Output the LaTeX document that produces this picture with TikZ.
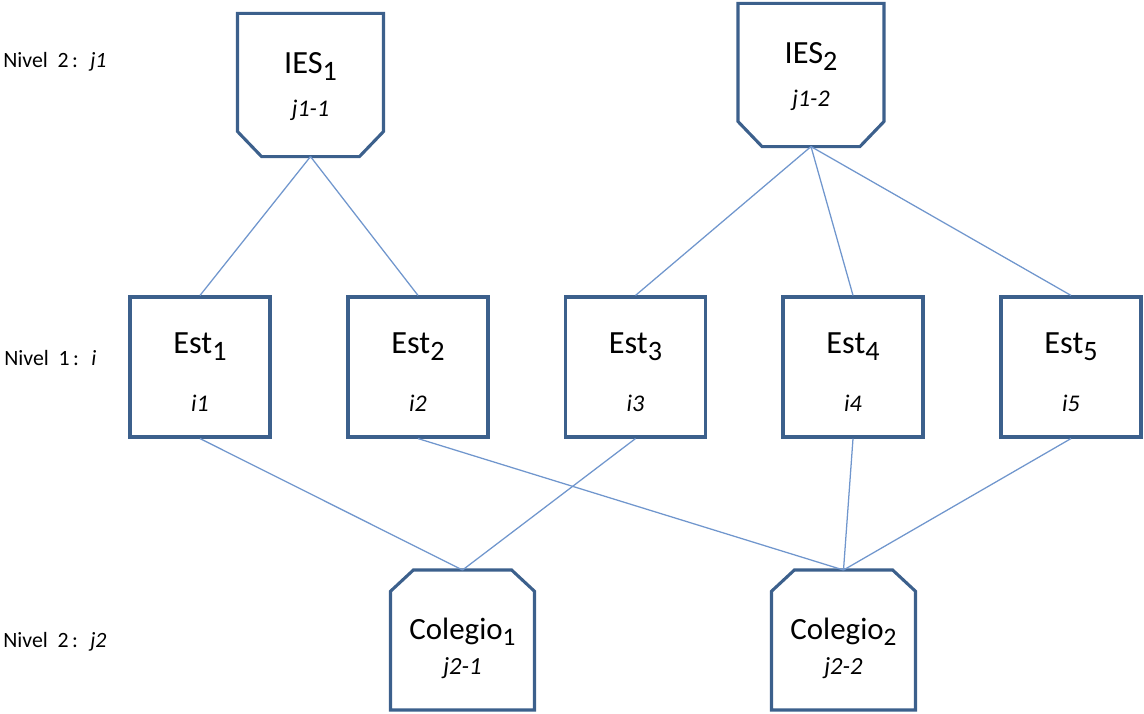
\documentclass[tikz,border=0pt]{standalone}
\usepackage{fontspec}
\setmainfont{Carlito}
\definecolor{boxblue}{RGB}{60,96,140}
\definecolor{linkblue}{RGB}{112,150,205}
\newcommand{\subidx}[2][5pt]{\raisebox{-#1}{#2}}
\newcommand{\topgap}[1]{\rule{0pt}{#1}}
% chamfered outlines, drawn round a named box
\newcommand{\chamferlow}[1]{\draw[boxline] (#1.north west) -- (#1.north east)
  -- ([yshift=0.625cm]#1.south east) -- ([xshift=-0.6cm]#1.south east)
  -- ([xshift=0.6cm]#1.south west) -- ([yshift=0.625cm]#1.south west) -- cycle;}
\newcommand{\chamferhigh}[1]{\draw[boxline] (#1.south west) -- (#1.south east)
  -- ([yshift=-0.53cm]#1.north east) -- ([xshift=-0.57cm]#1.north east)
  -- ([xshift=0.57cm]#1.north west) -- ([yshift=-0.53cm]#1.north west) -- cycle;}
\tikzset{
  boxline/.style={draw=boxblue, line width=2.2pt, line join=miter},
  estbox/.style={boxline, align=center, inner sep=0pt,
    minimum width=3.5cm, minimum height=3.5cm, font=\fontsize{23}{28}\selectfont},
  iesbox/.style={estbox, draw=none, minimum width=3.57cm},
  colbox/.style={estbox, draw=none, minimum width=3.52cm, minimum height=3.42cm,
    font=\fontsize{22}{26}\selectfont},
  link/.style={draw=linkblue, line width=0.9pt},
  nivel/.style={anchor=base west, inner sep=0pt, font=\fontsize{15.5}{18}\selectfont}
}
\begin{document}
\begin{tikzpicture}[x=0.025cm, y=-0.025cm]
      \useasboundingbox (0,0) rectangle (1144,714);

      % niveles
      \node[nivel] (niv-j1) at (3,68) {Nivel\hspace{3.5pt} 2\hspace{2.5pt}:\hspace{4pt} \textit{j1}};
      \node[nivel] (niv-i)  at (4,366) {Nivel\hspace{3.5pt} 1\hspace{2.5pt}:\hspace{4pt} \textit{i}};
      \node[nivel] (niv-j2) at (3,647) {Nivel\hspace{3.5pt} 2\hspace{2.5pt}:\hspace{4pt} \textit{j2}};

      % instituciones
      \node[iesbox] (ies1) at (310.5,85) {\topgap{17pt}IES\subidx{\fontsize{20}{20}\selectfont 1}\\[3pt]{\fontsize{17}{20}\selectfont\itshape j1-1}};
      \node[iesbox] (ies2) at (811,75) {\topgap{17pt}IES\subidx{\fontsize{20}{20}\selectfont 2}\\[3pt]{\fontsize{17}{20}\selectfont\itshape j1-2}};
      \chamferlow{ies1}
      \chamferlow{ies2}

      % estudiantes
      \foreach \n/\x in {1/200,2/418,3/635.5,4/853,5/1071}
        \node[estbox] (est\n) at (\x,367) {\topgap{22pt}Est\subidx{\fontsize{20}{20}\selectfont \n}\\[13pt]{\fontsize{17}{20}\selectfont\itshape i\n}};

      % colegios
      \node[colbox] (col1) at (462.5,640) {\topgap{27pt}Colegio\subidx[4.3pt]{\fontsize{18}{20}\selectfont 1}\\[-1pt]{\fontsize{17.5}{20}\selectfont\itshape j2-1}};
      \node[colbox] (col2) at (843.5,640) {\topgap{27pt}Colegio\subidx[4.3pt]{\fontsize{18}{20}\selectfont 2}\\[-1pt]{\fontsize{17.5}{20}\selectfont\itshape j2-2}};
      \chamferhigh{col1}
      \chamferhigh{col2}

      \draw[link] (ies1.south) -- (est1.north);
      \draw[link] (ies1.south) -- (est2.north);
      \draw[link] (ies2.south) -- (est3.north);
      \draw[link] (ies2.south) -- (est4.north);
      \draw[link] (ies2.south) -- (est5.north);

      \draw[link] (est1.south) -- (col1.north);
      \draw[link] (est3.south) -- (col1.north);
      \draw[link] (est2.south) -- (col2.north);
      \draw[link] (est4.south) -- (col2.north);
      \draw[link] (est5.south) -- (col2.north);
    \end{tikzpicture}
\end{document}
